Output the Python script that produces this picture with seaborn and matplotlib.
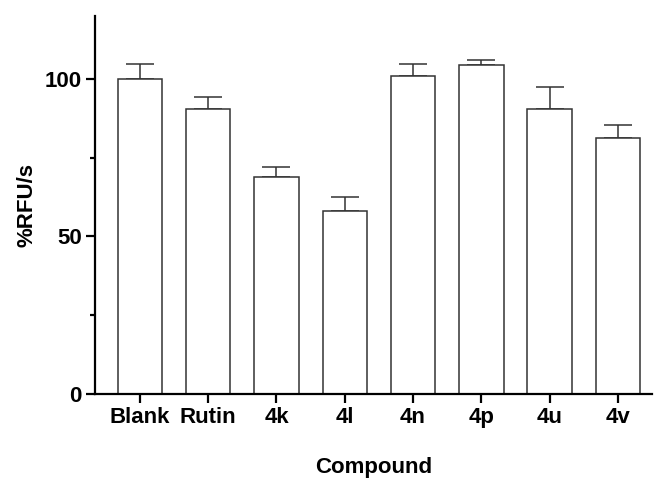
import numpy as np
import pandas as pd
import matplotlib
matplotlib.use('Agg')
import matplotlib.pyplot as plt
import seaborn as sns
from matplotlib.ticker import MultipleLocator

# Datos
compuestos = ['Blank', 'Rutin', '4k', '4l', '4n', '4p', '4u', '4v']
rfu = [100.0, 90.5, 69.0, 58.0, 100.8, 104.3, 90.5, 81.3]
error = [4.6, 3.8, 3.2, 4.6, 3.8, 1.6, 6.9, 4.0]

df = pd.DataFrame({'Compound': compuestos, 'RFU': rfu, 'err': error})

sns.set_style('ticks')
plt.rcParams['font.family'] = ['Liberation Sans', 'DejaVu Sans']
plt.rcParams['font.weight'] = 'bold'
for clave in ['text.color', 'axes.labelcolor', 'xtick.color', 'ytick.color']:
    plt.rcParams[clave] = 'black'

fig = plt.figure(figsize=(6.54, 4.8), dpi=100)
ax = fig.add_axes([0.145, 0.179, 0.852, 0.788])

# Barras blancas con borde oscuro
sns.barplot(data=df, x='Compound', y='RFU', color='white', edgecolor='#333333',
            linewidth=1.1, width=0.65, errorbar=None, ax=ax, zorder=2)

# Barras de error solo hacia arriba
ax.errorbar(np.arange(len(compuestos)), df['RFU'],
            yerr=[np.zeros(len(error)), df['err']], fmt='none',
            ecolor='#333333', elinewidth=1.1, capsize=10, capthick=1.1, zorder=1)

ax.set_ylim(0, 120)
ax.set_xlim(-0.66, 7.5)
ax.yaxis.set_major_locator(MultipleLocator(50))
ax.yaxis.set_minor_locator(MultipleLocator(25))

sns.despine(ax=ax)
for lado in ['left', 'bottom']:
    ax.spines[lado].set_linewidth(1.6)
    ax.spines[lado].set_color('black')

ax.tick_params(axis='both', which='major', length=6.5, width=1.6, labelsize=16, pad=3)
ax.tick_params(axis='y', which='minor', length=3.5, width=1.6)
for lbl in ax.get_xticklabels() + ax.get_yticklabels():
    lbl.set_fontweight('bold')

ax.set_xlabel('Compound', fontsize=16, fontweight='bold', labelpad=21)
ax.set_ylabel('%RFU/s', fontsize=16, fontweight='bold', labelpad=5)

fig.savefig('out.png', dpi=100)
